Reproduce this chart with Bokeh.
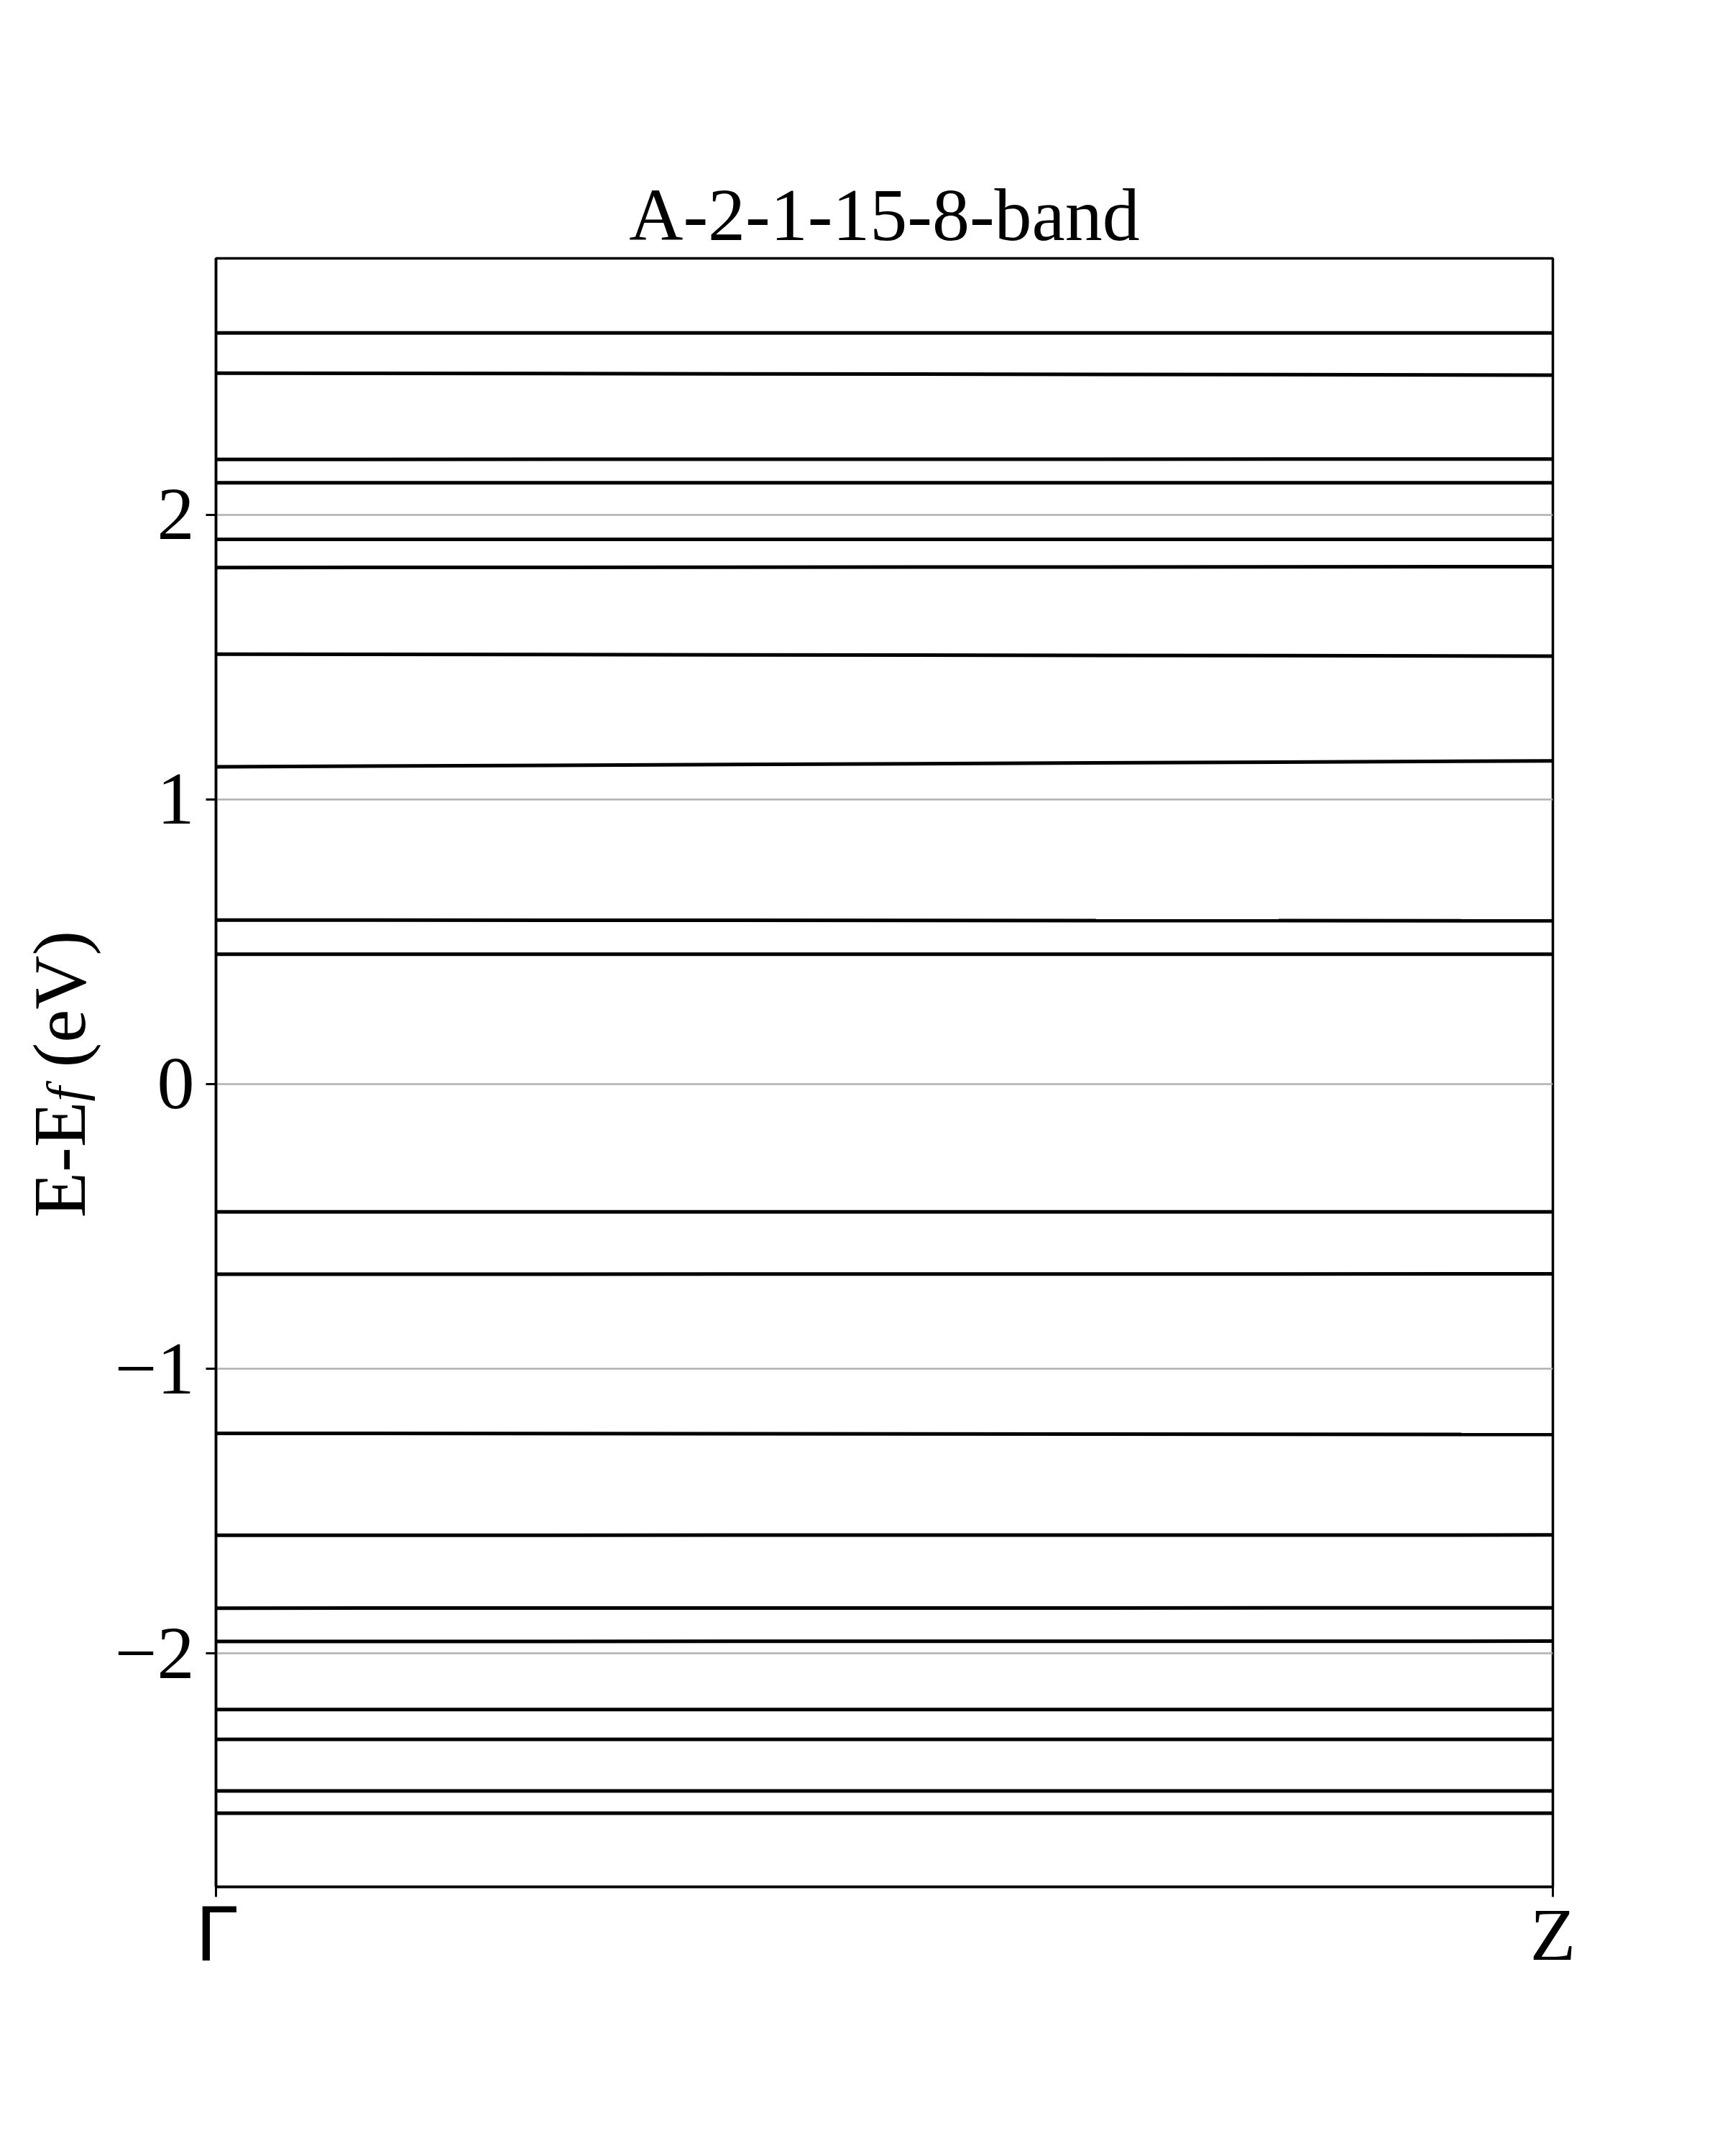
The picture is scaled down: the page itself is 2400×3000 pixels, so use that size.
import math
from bokeh.plotting import figure
from bokeh.models import Range1d, FixedTicker, Label, ColumnDataSource
from bokeh.embed import file_html
from bokeh.resources import INLINE

# ---------------- data ----------------
title_text = "A-2-1-15-8-band"
k_positions = [0.0, 1.0]
k_labels = ["Γ", "Z"]
y_ticks = [-2, -1, 0, 1, 2]
y_tick_labels = ["−2", "−1", "0", "1", "2"]
ylabel_parts = ["E-E", "f", "(eV)"]

# energy (eV) of each band at Γ and at Z
band_gamma = [2.638, 2.497, 2.194, 2.112, 1.913, 1.814, 1.510, 1.114,
              0.576, 0.456, -0.449, -0.668, -1.227, -1.585, -1.841,
              -1.958, -2.197, -2.302, -2.483, -2.561]
band_z = [2.638, 2.490, 2.195, 2.112, 1.913, 1.817, 1.503, 1.135,
          0.573, 0.456, -0.449, -0.667, -1.231, -1.584, -1.840,
          -1.957, -2.197, -2.302, -2.483, -2.561]

y_min, y_max = -2.82, 2.90

# ---------------- figure ----------------
FONT = "Liberation Serif"
FS = "104px"
FRAME_L, FRAME_T, FRAME_W, FRAME_H = 300, 359, 1860, 2266
FRAME_B = FRAME_T + FRAME_H

p = figure(frame_width=FRAME_W, frame_height=FRAME_H,
           min_border_left=FRAME_L, min_border_top=FRAME_T,
           min_border_right=224, min_border_bottom=330,
           x_range=Range1d(k_positions[0], k_positions[-1]),
           y_range=Range1d(y_min, y_max),
           title=title_text,
           output_backend="svg", toolbar_location=None)

p.background_fill_color = "white"
p.border_fill_color = "white"
p.outline_line_color = "black"
p.outline_line_width = 3.5

p.title.text_font = FONT
p.title.text_font_size = FS
p.title.text_font_style = "normal"
p.title.align = "center"
p.title.standoff = 7
p.title.text_color = "black"

# grid
p.xgrid.visible = False
p.ygrid.grid_line_color = "#b0b0b0"
p.ygrid.grid_line_width = 2.5
p.ygrid.ticker = FixedTicker(ticks=y_ticks)

# y axis
p.yaxis.ticker = FixedTicker(ticks=y_ticks)
p.yaxis.major_label_overrides = {t: s for t, s in zip(y_ticks, y_tick_labels)}
p.yaxis.major_label_text_font = FONT
p.yaxis.major_label_text_font_size = FS
p.yaxis.major_label_text_color = "black"
p.yaxis.major_label_standoff = 16
p.yaxis.major_tick_out = 14
p.yaxis.major_tick_in = 0
p.yaxis.minor_tick_out = 0
p.yaxis.minor_tick_in = 0
p.yaxis.major_tick_line_width = 3
p.yaxis.axis_line_width = 3.5
p.yaxis.major_tick_line_color = "black"
p.yaxis.axis_line_color = "black"

# x axis (labels drawn separately to allow mixed fonts)
p.xaxis.ticker = FixedTicker(ticks=k_positions)
p.xaxis.major_label_overrides = {k: "" for k in k_positions}
p.xaxis.major_label_text_font_size = "1px"
p.xaxis.major_tick_out = 14
p.xaxis.major_tick_in = 0
p.xaxis.minor_tick_out = 0
p.xaxis.minor_tick_in = 0
p.xaxis.major_tick_line_width = 3
p.xaxis.axis_line_width = 3.5
p.xaxis.major_tick_line_color = "black"
p.xaxis.axis_line_color = "black"

# bands
src = ColumnDataSource(dict(
    xs=[list(k_positions) for _ in band_gamma],
    ys=[[g, z] for g, z in zip(band_gamma, band_z)],
))
p.multi_line(xs="xs", ys="ys", source=src, line_color="black", line_width=5)

px_per_y = FRAME_H / (y_max - y_min)
px_per_x = FRAME_W / (k_positions[-1] - k_positions[0])

def page_y(py):
    return y_max - (py - FRAME_T) / px_per_y

def page_x(px):
    return k_positions[0] + (px - FRAME_L) / px_per_x

# k-point labels, placed in the "below" side panel (data units)
k_fonts = ["DejaVu Sans", FONT]
for kx, kl, kf in zip(k_positions, k_labels, k_fonts):
    p.add_layout(Label(x=kx, y=page_y(2691),
                       text=kl, text_font=kf, text_font_size=FS,
                       text_align="center", text_baseline="alphabetic",
                       text_color="black"), "below")

# y-axis label built from pieces (E-E, italic subscript f, (eV));
# pieces are spread over side panels that have spare room
ylab_specs = [
    (ylabel_parts[0], 82, 1694, FS, "normal", "left"),
    (ylabel_parts[1], 91, 1532, "73px", "italic", "right"),
    (ylabel_parts[2], 82, 1485, FS, "normal", "right"),
]
for txt, pxx, pyy, fs, style, panel in ylab_specs:
    p.add_layout(Label(x=page_x(pxx), y=page_y(pyy),
                       text=txt, angle=math.pi / 2, text_font=FONT,
                       text_font_size=fs, text_font_style=style,
                       text_align="left", text_baseline="alphabetic",
                       text_color="black"), panel)

open("out.html", "w").write(file_html(p, INLINE))
